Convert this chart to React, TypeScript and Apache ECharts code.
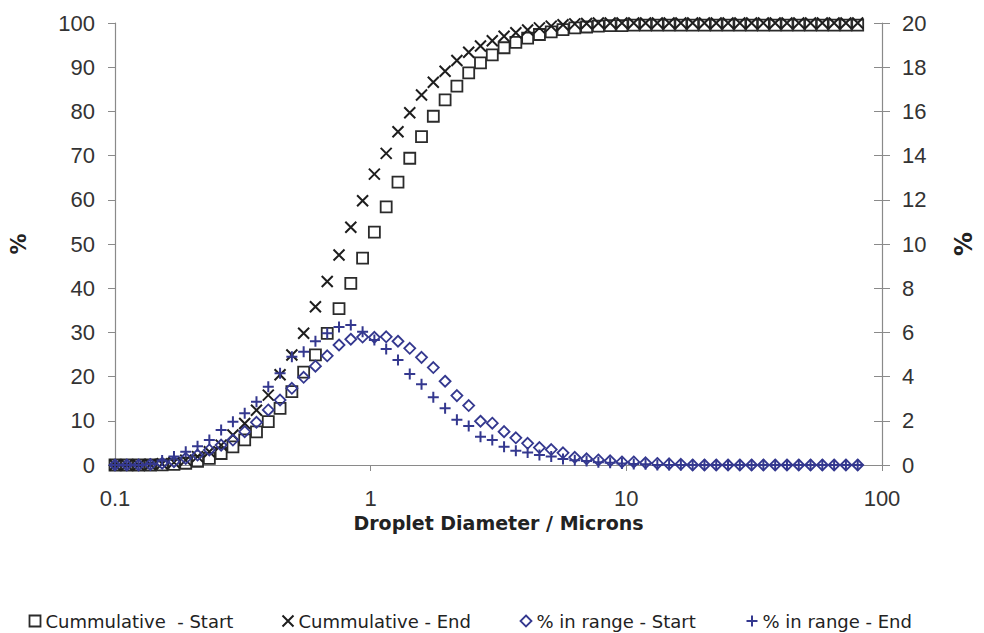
import React, { useEffect, useRef } from "react";
import * as echarts from "echarts";

// Droplet diameters (microns)
const diameters = [
  0.1, 0.1112, 0.1237, 0.1375, 0.1529, 0.1701, 0.1891, 0.2103, 0.2339, 0.2601,
  0.2892, 0.3216, 0.3576, 0.3977, 0.4422, 0.4918, 0.5469, 0.6081, 0.6762, 0.752,
  0.8362, 0.9299, 1.034, 1.15, 1.279, 1.422, 1.581, 1.758, 1.955, 2.174,
  2.418, 2.689, 2.99, 3.325, 3.697, 4.111, 4.572, 5.084, 5.653, 6.286,
  6.991, 7.774, 8.644, 9.612, 10.69, 11.89, 13.22, 14.7, 16.34, 18.17,
  20.21, 22.47, 24.99, 27.79, 30.9, 34.36, 38.21, 42.49, 47.25, 52.54,
  58.43, 64.97, 72.25, 80.34,
];

// Cumulative % (left axis)
const cumStart = [
  0, 0, 0, 0, 0.05, 0.15, 0.4, 0.8, 1.5, 2.6,
  4.1, 5.7, 7.5, 9.8, 12.8, 16.6, 21.0, 24.9, 29.8, 35.4,
  41.1, 46.8, 52.7, 58.4, 64.0, 69.4, 74.3, 78.9, 82.6, 85.7,
  88.7, 91.0, 92.8, 94.4, 95.6, 96.6, 97.4, 98.0, 98.5, 98.9,
  99.1, 99.3, 99.4, 99.4, 99.5, 99.5, 99.5, 99.5, 99.5, 99.5,
  99.5, 99.5, 99.5, 99.5, 99.5, 99.5, 99.5, 99.5, 99.5, 99.5,
  99.5, 99.5, 99.5, 99.5,
];
const cumEnd = [
  0, 0, 0, 0.1, 0.3, 0.6, 1.1, 1.9, 3.0, 4.5,
  6.8, 9.4, 12.4, 15.8, 20.4, 24.9, 29.8, 35.8, 41.5, 47.5,
  53.8, 59.8, 65.8, 70.5, 75.4, 79.7, 83.7, 86.6, 89.1, 91.5,
  93.4, 94.8, 96.0, 97.0, 97.8, 98.4, 98.9, 99.3, 99.6, 99.8,
  99.9, 100, 100, 100, 100, 100, 100, 100, 100, 100,
  100, 100, 100, 100, 100, 100, 100, 100, 100, 100,
  100, 100, 100, 100,
];

// % in range (right axis)
const rangeStart = [
  0, 0, 0, 0.02, 0.08, 0.15, 0.3, 0.45, 0.68, 0.9,
  1.13, 1.51, 1.93, 2.49, 2.94, 3.47, 3.97, 4.47, 4.94, 5.43,
  5.69, 5.79, 5.78, 5.8, 5.6, 5.28, 4.87, 4.41, 3.79, 3.14,
  2.69, 1.98, 1.89, 1.51, 1.23, 0.98, 0.79, 0.7, 0.55, 0.35,
  0.28, 0.23, 0.19, 0.14, 0.14, 0.1, 0.07, 0.05, 0.03, 0,
  0, 0, 0, 0, 0, 0, 0, 0, 0, 0,
  0, 0, 0, 0,
];
const rangeEnd = [
  0, 0, 0, 0.05, 0.2, 0.38, 0.6, 0.85, 1.13, 1.58,
  1.96, 2.34, 2.86, 3.54, 4.15, 4.9, 5.13, 5.6, 5.96, 6.25,
  6.33, 6.03, 5.66, 5.25, 4.75, 4.12, 3.65, 3.07, 2.57, 2.05,
  1.77, 1.28, 1.13, 0.83, 0.64, 0.57, 0.45, 0.38, 0.27, 0.22,
  0.18, 0.13, 0.1, 0.07, 0.05, 0.03, 0, 0, 0, 0,
  0, 0, 0, 0, 0, 0, 0, 0, 0, 0,
  0, 0, 0, 0,
];

const seriesNames = [
  "Cummulative  - Start",
  "Cummulative - End",
  "% in range - Start",
  "% in range - End",
];

const CROSS = "path://M0,0L10,10M10,0L0,10";
const PLUS = "path://M5,0L5,10M0,5L10,5";
const BLACK = "#2b2b2b";
const NAVY = "#34388f";
const AXIS = "#8a8a8a";
const LABEL = "#333333";

const markers = [
  { symbol: "rect", size: 11, color: BLACK, width: 1.8 },
  { symbol: CROSS, size: 11, color: "#1e1e1e", width: 2 },
  { symbol: "diamond", size: 11, color: NAVY, width: 1.8 },
  { symbol: PLUS, size: 11, color: NAVY, width: 2 },
];
const seriesValues = [cumStart, cumEnd, rangeStart, rangeEnd];
const axisIndexOf = [0, 0, 1, 1];
const legendLeft = [22, 275, 513, 739];

export default function App() {
  const ref = useRef<HTMLDivElement>(null);

  useEffect(() => {
    if (!ref.current) return;
    const chart = echarts.init(ref.current, undefined, { renderer: "svg" });

    const series = seriesNames.map((name, i) => ({
      name,
      type: "scatter",
      yAxisIndex: axisIndexOf[i],
      symbol: markers[i].symbol,
      symbolSize: markers[i].size,
      itemStyle: {
        color: "none",
        borderColor: markers[i].color,
        borderWidth: markers[i].width,
        opacity: 1,
      },
      emphasis: { disabled: true },
      data: diameters.map((d, k) => [d, seriesValues[i][k]]),
    }));

    const legends = seriesNames.map((name, i) => ({
      show: true,
      left: legendLeft[i],
      top: 607,
      orient: "horizontal",
      itemWidth: 11,
      itemHeight: 11,
      itemGap: 5,
      selectedMode: false,
      textStyle: {
        fontFamily: "DejaVu Sans",
        fontSize: 18,
        color: "#222",
      },
      data: [
        {
          name,
          icon: markers[i].symbol,
          itemStyle: {
            color: "none",
            borderColor: markers[i].color,
            borderWidth: markers[i].width,
          },
        },
      ],
    }));

    const tickLabelStyle = {
      fontFamily: "Liberation Sans",
      fontSize: 22,
      color: LABEL,
    };

    chart.setOption({
      animation: false,
      backgroundColor: "#ffffff",
      grid: { left: 110, right: 93, top: 23, bottom: 168, containLabel: false },
      legend: legends,
      xAxis: {
        type: "log",
        logBase: 10,
        min: 0.1,
        max: 100,
        name: "Droplet Diameter / Microns",
        nameLocation: "middle",
        nameGap: 44,
        nameTextStyle: {
          fontFamily: "DejaVu Sans",
          fontWeight: "bold",
          fontSize: 19,
          color: "#222",
        },
        axisLine: { show: true, lineStyle: { color: AXIS, width: 1.2 } },
        axisTick: { show: true, length: 6, lineStyle: { color: AXIS } },
        minorTick: { show: false },
        splitLine: { show: false },
        axisLabel: {
          ...tickLabelStyle,
          margin: 22,
          formatter: (v: number) => String(v),
        },
      },
      yAxis: [
        {
          type: "value",
          min: 0,
          max: 100,
          interval: 10,
          position: "left",
          name: "%",
          nameLocation: "middle",
          nameGap: 86,
          nameRotate: 90,
          nameTextStyle: {
            fontFamily: "DejaVu Sans",
            fontWeight: "bold",
            fontSize: 21,
            color: "#222",
          },
          axisLine: { show: true, lineStyle: { color: AXIS, width: 1.2 } },
          axisTick: { show: true, length: 7, lineStyle: { color: AXIS } },
          splitLine: { show: false },
          axisLabel: { ...tickLabelStyle, margin: 20 },
        },
        {
          type: "value",
          min: 0,
          max: 20,
          interval: 2,
          position: "right",
          name: "%",
          nameLocation: "middle",
          nameGap: 70,
          nameRotate: 90,
          nameTextStyle: {
            fontFamily: "DejaVu Sans",
            fontWeight: "bold",
            fontSize: 24,
            color: "#222",
          },
          axisLine: { show: true, lineStyle: { color: AXIS, width: 1.2 } },
          axisTick: { show: true, length: 8, lineStyle: { color: AXIS } },
          splitLine: { show: false },
          axisLabel: { ...tickLabelStyle, margin: 20 },
        },
        {
          type: "value",
          min: 0,
          max: 20,
          interval: 2,
          position: "right",
          axisLine: { show: false },
          axisTick: { show: true, inside: true, length: 8, lineStyle: { color: AXIS } },
          splitLine: { show: false },
          axisLabel: { show: false },
        },
      ],
      series,
    });

    return () => chart.dispose();
  }, []);

  return (
    <div
      ref={ref}
      style={{ position: "fixed", left: 0, top: 0, width: 984, height: 633, background: "#fff" }}
    />
  );
}
